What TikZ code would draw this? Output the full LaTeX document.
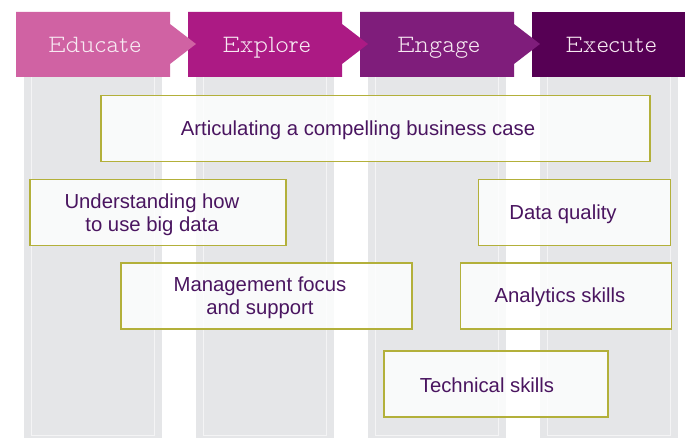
\documentclass[tikz,border=0pt]{standalone}
\usepackage{fontspec}
\setmainfont{Liberation Sans}
\usetikzlibrary{calc}
\definecolor{cEdu}{HTML}{D062A3}
\definecolor{cExp}{HTML}{AC1A84}
\definecolor{cEng}{HTML}{7F1D7B}
\definecolor{cExe}{HTML}{560054}
\definecolor{cHtxt}{HTML}{F7E9F2}
\definecolor{cCol}{HTML}{E5E6E8}
\definecolor{cColLine}{HTML}{F4F4F5}
\definecolor{cBorder}{HTML}{B3B03A}
\definecolor{cTxt}{HTML}{4A1560}
\newcommand\hdrfont{\fontfamily{lmvtt}\fontseries{l}\selectfont}
\begin{document}
\begin{tikzpicture}[x=1pt,y=-1pt,
  hdrtxt/.style={text=cHtxt,font=\hdrfont\fontsize{25}{27}\selectfont,inner sep=0pt,anchor=base},
  colbg/.style={fill=cCol,draw=none},
  colline/.style={draw=cColLine,line width=1.4pt},
  box/.style={draw=cBorder,line width=1.1pt,fill=white,fill opacity=0.8,text opacity=1,rectangle,inner sep=0pt},
  lbl/.style={text=cTxt,font=\fontsize{20.3}{23.4}\selectfont,align=center,inner sep=0pt,anchor=base},
  lbltwo/.style={lbl,anchor=center}]
\useasboundingbox (0,0) rectangle (685,438);
\fill[white] (0,0) rectangle (685,438);
% columns
\foreach \i in {0,1,2,3}{
  \pgfmathsetmacro{\xa}{24+172*\i}
  \fill[colbg] (\xa,77) rectangle (\xa+138,438);
  \draw[colline] (\xa+7.5,77) -- (\xa+7.5,435.5) -- (\xa+130.5,435.5) -- (\xa+130.5,77);
}
% headers (right to left so tips overlap next box)
\fill[cExe] (532,12) rectangle (685,77);
\fill[cEng] (360,12) -- (514,12) -- (514,24) -- (540,44) -- (514,64) -- (514,77) -- (360,77) -- cycle;
\fill[cExp] (188,12) -- (342,12) -- (342,24) -- (368,44) -- (342,64) -- (342,77) -- (188,77) -- cycle;
\fill[cEdu] (16,12) -- (170,12) -- (170,24) -- (196,44) -- (170,64) -- (170,77) -- (16,77) -- cycle;
\node[hdrtxt] (edu) at (94.5,52.5) {Educate};
\node[hdrtxt] (exp) at (266.5,52.5) {Explore};
\node[hdrtxt] (eng) at (438.5,52.5) {Engage};
\node[hdrtxt] (exe) at (611,52.5) {Execute};
% boxes
\node[box,minimum width=549pt,minimum height=66pt] (b1) at (375.5,128.5) {};
\node[lbl] (t1) at (358,136) {Articulating a compelling business case};
\node[box,minimum width=256pt,minimum height=66pt] (b2) at (158,212.5) {};
\node[lbltwo] (t2) at (152,214.7) {Understanding how\\to use big data};
\node[box,minimum width=192pt,minimum height=66pt] (b3) at (574.5,212.5) {};
\node[lbl] (t3) at (563,220) {Data quality};
\node[box,minimum width=291pt,minimum height=66pt] (b4) at (266.5,296) {};
\node[lbltwo] (t4) at (260,298) {Management focus\\and support};
\node[box,minimum width=211pt,minimum height=66pt] (b5) at (566,296) {};
\node[lbl] (t5) at (560,302.7) {Analytics skills};
\node[box,minimum width=224pt,minimum height=66pt] (b6) at (496,384) {};
\node[lbl] (t6) at (487,392.3) {Technical skills};
\end{tikzpicture}
\end{document}
